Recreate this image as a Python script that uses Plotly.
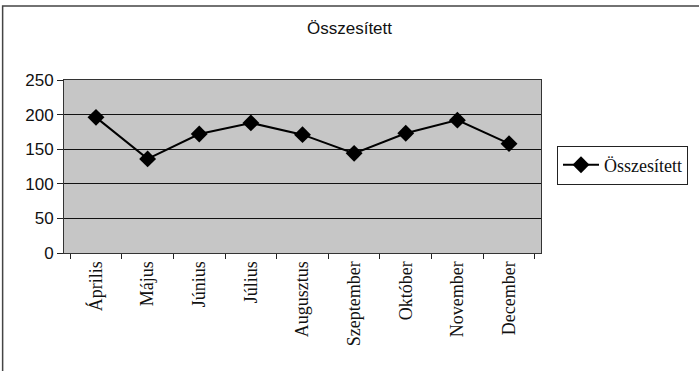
import plotly.graph_objects as go

months = ["Április", "Május", "Június", "Július", "Augusztus", "Szeptember", "Október", "November", "December"]
values = [196, 136, 172, 188, 171, 144, 173, 192, 158]
y_ticks = [0, 50, 100, 150, 200, 250]
series_name = "Összesített"
title_text = "Összesített"

W, H = 699, 371
L, R, T, B = 64, 157, 80, 118
pw, ph = W - L - R, H - T - B


def px_x(p):
    return (p - L) / pw


def px_y(p):
    return (H - B - p) / ph


fig = go.Figure()
fig.add_trace(go.Scatter(
    x=months, y=values, mode="lines+markers", name=series_name,
    line=dict(color="black", width=2),
    marker=dict(symbol="diamond", size=13, color="black"),
))

fig.update_layout(
    width=W, height=H,
    margin=dict(l=L, r=R, t=T, b=B),
    paper_bgcolor="white",
    plot_bgcolor="#c6c6c6",
    title=dict(text=title_text, x=0.5, xanchor="center", y=1 - 28 / H, yanchor="middle",
               font=dict(family="Liberation Sans, Arial", size=17, color="#111")),
    showlegend=True,
    legend=dict(x=px_x(557), xanchor="left", y=px_y(165), yanchor="middle",
                bgcolor="white", bordercolor="#222", borderwidth=1, itemwidth=36,
                font=dict(family="Liberation Serif, Times New Roman", size=18, color="#111")),
    xaxis=dict(type="category", tickson="boundaries", ticks="outside", ticklen=5,
               tickcolor="#222", tickangle=-90, showgrid=False,
               showline=True, linecolor="#333", linewidth=1, mirror=True,
               tickfont=dict(family="Liberation Serif, Times New Roman", size=18, color="#111")),
    yaxis=dict(range=[0, 250], tickvals=y_ticks, ticks="outside", ticklen=6, tickcolor="#222",
               showgrid=True, gridcolor="#111", gridwidth=1, zeroline=False,
               showline=True, linecolor="#333", linewidth=1, mirror=True,
               tickfont=dict(family="Liberation Sans, Arial", size=17, color="#111")),
)

# outer chart border (only left and top edges visible in the reference)
fig.add_shape(type="rect", xref="paper", yref="paper",
              x0=px_x(2.5), x1=px_x(W + 20), y0=px_y(H + 20), y1=px_y(6),
              line=dict(color="#444", width=1.5), fillcolor="rgba(0,0,0,0)", layer="above")

fig.write_html("out.html", config={"displayModeBar": False},
               post_script="document.body.style.margin='0';document.body.style.overflow='hidden';")
